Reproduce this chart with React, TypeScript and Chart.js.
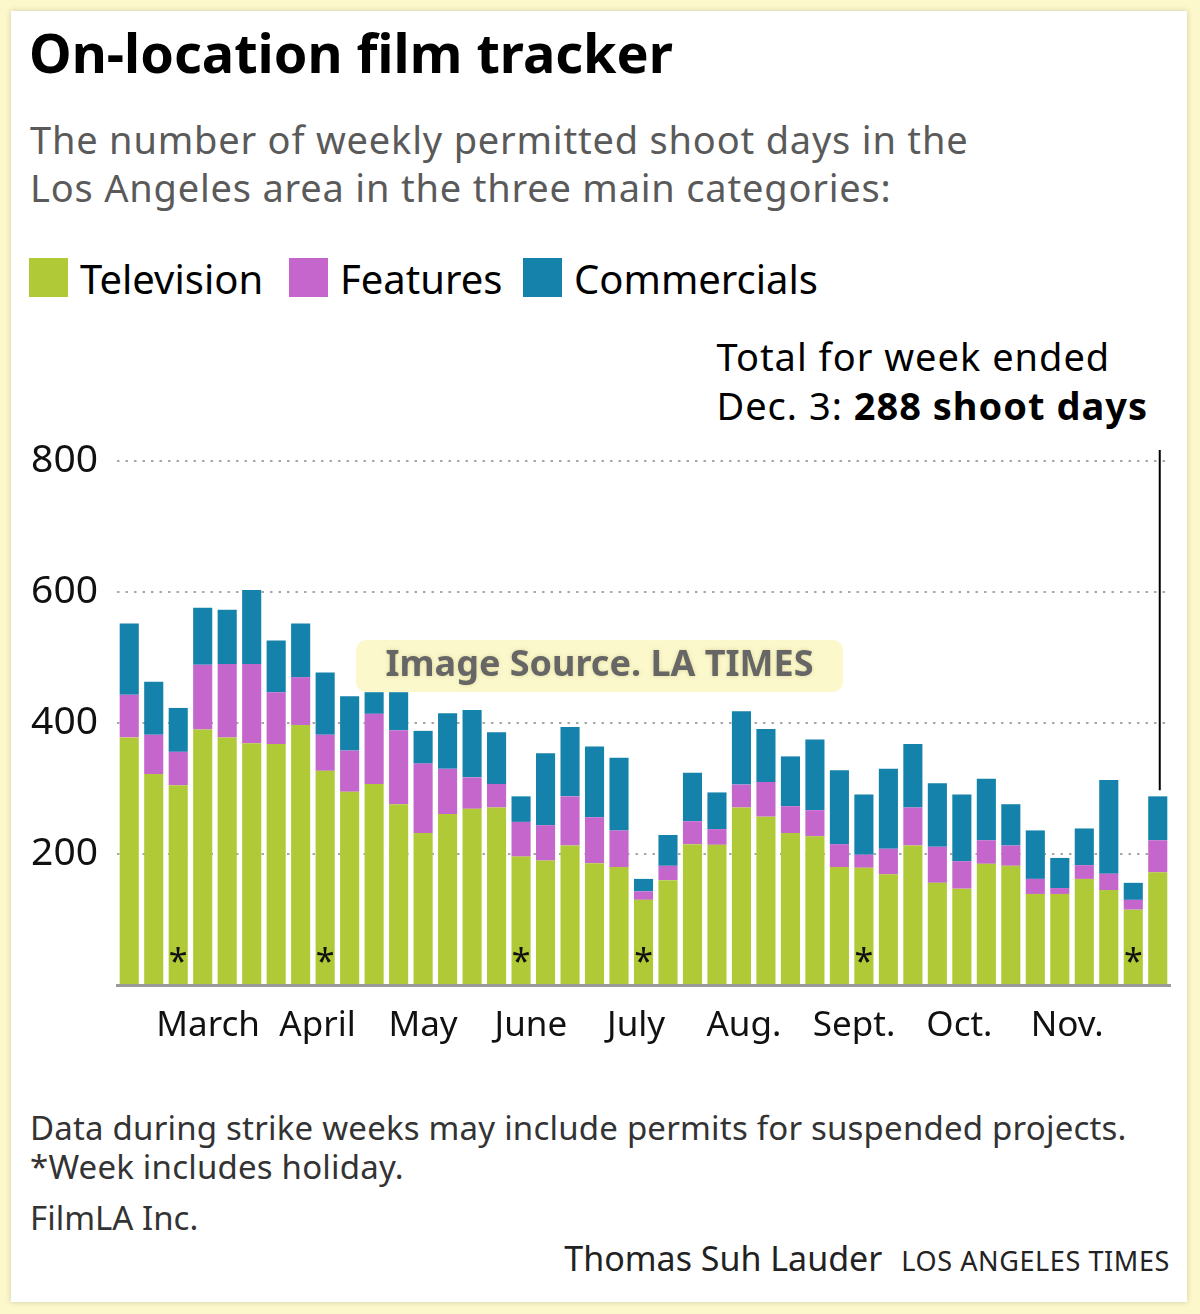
import React, { useEffect, useRef } from "react";
import { Chart, registerables } from "chart.js";

Chart.register(...registerables);

// Weekly permitted shoot days
const weeks = Array.from({ length: 43 }, (_, i) => `W${i + 1}`);
const television = [378, 322, 305, 390, 378, 369, 368, 397, 327, 295, 307, 276, 232, 261, 269, 271, 196, 190, 213, 186, 180, 130, 160, 215, 214, 271, 257, 232, 227, 180, 179, 169, 213, 156, 147, 185, 182, 139, 139, 162, 145, 115, 172];
const features = [65, 60, 51, 99, 112, 121, 79, 73, 55, 63, 107, 113, 106, 69, 48, 36, 53, 54, 75, 70, 56, 13, 22, 35, 24, 35, 53, 41, 40, 35, 20, 39, 58, 55, 42, 36, 31, 23, 9, 21, 25, 15, 49];
const commercials = [109, 81, 67, 87, 83, 113, 79, 82, 95, 83, 33, 58, 50, 85, 103, 79, 39, 110, 106, 108, 111, 19, 47, 74, 56, 112, 81, 76, 108, 113, 92, 122, 97, 97, 102, 94, 63, 74, 46, 56, 143, 26, 67];
const holidayWeeks = [2, 8, 16, 21, 30, 41];
const monthLabels = ["March", "April", "May", "June", "July", "Aug.", "Sept.", "Oct.", "Nov."];
const monthPositions = [3.22, 7.69, 12.0, 16.4, 20.7, 25.1, 29.6, 33.9, 38.3];
const yTicks = [0, 200, 400, 600, 800];

const FONT = "'Noto Sans', 'Open Sans', sans-serif";

export default function App() {
  const ref = useRef<HTMLCanvasElement | null>(null);

  useEffect(() => {
    if (!ref.current) return;
    const overlay = {
      id: "overlay",
      afterDatasetsDraw(chart: any) {
        const { ctx, chartArea, scales } = chart;
        const xs = scales.x;
        const ys = scales.y;
        ctx.save();
        // asterisks
        ctx.fillStyle = "#111";
        ctx.font = `34px ${FONT}`;
        ctx.textAlign = "center";
        ctx.textBaseline = "alphabetic";
        holidayWeeks.forEach((i) => {
          ctx.fillText("*", xs.getPixelForValue(i), chartArea.bottom - 12);
        });
        // month labels
        ctx.font = `35px ${FONT}`;
        ctx.textBaseline = "middle";
        monthLabels.forEach((m, k) => {
          ctx.fillText(m, xs.getPixelForValue(monthPositions[k]), chartArea.bottom + 41);
        });
        // annotation line to latest week
        const last = weeks.length - 1;
        const total = television[last] + features[last] + commercials[last];
        const lx = xs.getPixelForValue(last) + 2;
        ctx.strokeStyle = "#000";
        ctx.lineWidth = 2;
        ctx.beginPath();
        ctx.moveTo(lx, chartArea.top - 11);
        ctx.lineTo(lx, ys.getPixelForValue(total) - 6);
        ctx.stroke();
        ctx.restore();
      },
    };
    const chart = new Chart(ref.current, {
      type: "bar",
      data: {
        labels: weeks,
        datasets: [
          { label: "Television", data: television, backgroundColor: "#b0c937" },
          { label: "Features", data: features, backgroundColor: "#c466cc" },
          { label: "Commercials", data: commercials, backgroundColor: "#1482aa" },
        ],
      },
      options: {
        animation: false,
        responsive: false,
        devicePixelRatio: 1,
        layout: { padding: { left: 0, right: 30, top: 61, bottom: 75 } },
        datasets: { bar: { barPercentage: 0.78, categoryPercentage: 1 } },
        plugins: { legend: { display: false }, tooltip: { enabled: false } },
        scales: {
          x: {
            stacked: true,
            ticks: { display: false },
            grid: { display: false },
            border: { display: true, color: "#9a9a9a", width: 3 },
            afterFit: (s: any) => { s.height = 0; },
          },
          y: {
            stacked: true,
            min: 0,
            max: 800,
            afterBuildTicks: (s: any) => { s.ticks = yTicks.map((v) => ({ value: v })); },
            ticks: {
              padding: 19,
              color: "#111",
              font: { family: FONT, size: 39 },
              callback: (v: any) => (v === 0 ? "" : String(v)),
            },
            grid: { color: "#a8a8a8", lineWidth: 2, drawTicks: false },
            border: { display: false, dash: [2.5, 6] },
            afterFit: (s: any) => { s.width = 117; },
          },
        },
      },
      plugins: [overlay],
    });
    return () => chart.destroy();
  }, []);

  const abs = (o: React.CSSProperties): React.CSSProperties => ({ position: "absolute", margin: 0, whiteSpace: "nowrap", ...o });

  return (
    <div style={{ position: "absolute", left: 0, top: 0, width: 1200, height: 1314, background: "#fcf8cb", fontFamily: FONT, overflow: "hidden" }}>
      <div style={abs({ left: 11, top: 11, width: 1176, height: 1291, background: "#fff", boxShadow: "0 0 6px rgba(0,0,0,0.18)" })} />
      <div style={abs({ left: 29, top: 25, fontSize: 54, lineHeight: "54px", fontWeight: 700, color: "#000" })}>On-location film tracker</div>
      <div style={abs({ left: 30, top: 115, fontSize: 38, lineHeight: "48px", letterSpacing: 0.8, color: "#5a5a5a" })}>
        The number of weekly permitted shoot days in the<br />Los Angeles area in the three main categories:
      </div>
      {[
        { name: "Television", color: "#b0c937", sq: 29, tx: 80 },
        { name: "Features", color: "#c466cc", sq: 289, tx: 340 },
        { name: "Commercials", color: "#1482aa", sq: 523, tx: 574 },
      ].map((l) => (
        <React.Fragment key={l.name}>
          <div style={abs({ left: l.sq, top: 258, width: 39, height: 39, background: l.color })} />
          <div style={abs({ left: l.tx, top: 259, fontSize: 40, lineHeight: "40px", color: "#000" })}>{l.name}</div>
        </React.Fragment>
      ))}
      <div style={abs({ right: 52, top: 332, fontSize: 38, lineHeight: "49px", letterSpacing: 1, color: "#000", textAlign: "left" })}>
        Total for week ended<br />Dec. 3: <b>288 shoot days</b>
      </div>
      <canvas ref={ref} width={1200} height={660} style={{ position: "absolute", left: 0, top: 400, width: 1200, height: 660 }} />
      <div style={abs({ left: 356, top: 640, width: 487, height: 52, borderRadius: 10, background: "rgba(251,247,200,0.93)", display: "flex", alignItems: "center", justifyContent: "center", paddingBottom: 8, boxSizing: "border-box", fontSize: 36, fontWeight: 700, color: "#666", textShadow: "0 0 4px rgba(200,190,120,0.6)" })}>
        Image Source. LA TIMES
      </div>
      <div style={abs({ left: 30, top: 1108, fontSize: 33, lineHeight: "39px", letterSpacing: 0.2, color: "#333" })}>
        Data during strike weeks may include permits for suspended projects.<br />*Week includes holiday.
      </div>
      <div style={abs({ left: 30, top: 1201, fontSize: 33, lineHeight: "33px", color: "#333" })}>FilmLA Inc.</div>
      <div style={abs({ right: 30, top: 1241, fontSize: 34, lineHeight: "34px", color: "#222", display: "flex", alignItems: "baseline" })}>
        <span>Thomas Suh Lauder</span>
        <span style={{ fontSize: 27, marginLeft: 19, letterSpacing: 0.6 }}>LOS ANGELES TIMES</span>
      </div>
    </div>
  );
}
